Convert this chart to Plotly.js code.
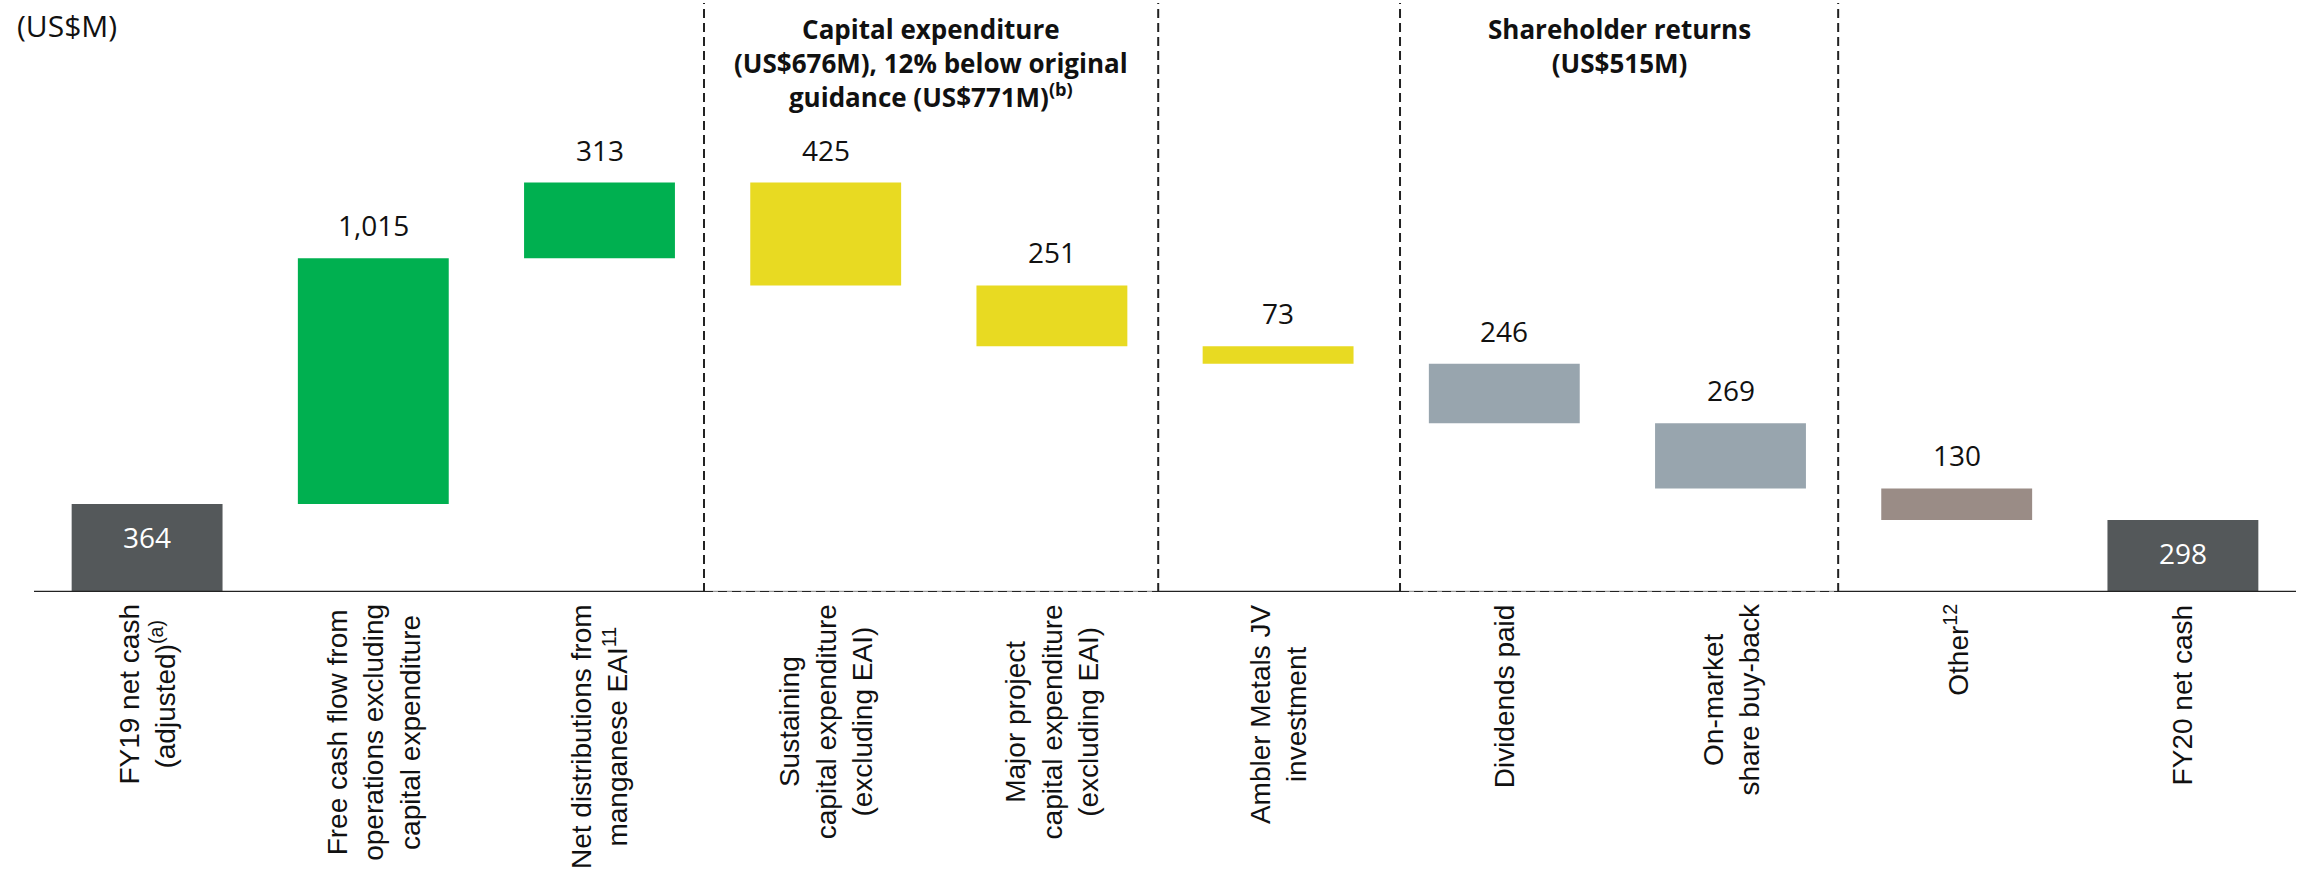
<!DOCTYPE html>
<html>
<head>
<meta charset="utf-8">
<script src="https://cdn.plot.ly/plotly-3.0.1.min.js"></script>
<style>
  html, body { margin: 0; padding: 0; background: #fff; }
  #chart { width: 2310px; height: 887px; }
</style>
</head>
<body>
<div id="chart"></div>
<script>
// Net cash bridge, FY19 -> FY20 (US$M)

const categories = [
    'FY19 net cash<br>(adjusted)<sup>(a)</sup>',
    'Free cash flow from<br>operations excluding<br>capital expenditure',
    'Net distributions from<br>manganese EAI<sup>11</sup>',
    'Sustaining<br>capital expenditure<br>(excluding EAI)',
    'Major project<br>capital expenditure<br>(excluding EAI)',
    'Ambler Metals JV<br>investment',
    'Dividends paid',
    'On-market<br>share buy-back',
    'Other<sup>12</sup>',
    'FY20 net cash'
];
const values      = [364, 1015, 313, -425, -251, -73, -246, -269, -130, 298];
const kinds       = ['total', 'delta', 'delta', 'delta', 'delta', 'delta', 'delta', 'delta', 'delta', 'total'];
const valueLabels = ['364', '1,015', '313', '425', '251', '73', '246', '269', '130', '298'];
const barColors   = ['#54585a', '#00b050', '#00b050', '#e8da22', '#e8da22', '#e8da22',
                     '#98a5ae', '#98a5ae', '#9a8c86', '#54585a'];
const sectionTitles = [
    'Capital expenditure<br>(US$676M), 12% below original<br>guidance (US$771M)<sup>(b)</sup>',
    'Shareholder returns<br>(US$515M)'
];
const unitLabel = '(US$M)';

// floating bars: running total for the bridge
const xs = categories.map((_, i) => i);
const bases = [];
const heights = [];
let running = 0;
values.forEach((v, i) => {
    if (kinds[i] === 'total') {
        bases.push(0); heights.push(v); running = v;
    } else if (v >= 0) {
        bases.push(running); heights.push(v); running += v;
    } else {
        bases.push(running + v); heights.push(-v); running += v;
    }
});

const valueFont = { family: 'Open Sans, Liberation Sans, sans-serif', size: 28, color: '#111' };
const tickFont  = { family: 'Liberation Sans, Arial, sans-serif', size: 28, color: '#111' };
const titleFont = { family: 'Open Sans, Liberation Sans, sans-serif', size: 26, color: '#111', weight: 'bold' };

const annotations = [];

xs.forEach(i => {
    if (kinds[i] === 'total') {
        // white label inside the net cash bars, just under the top
        annotations.push({
            x: i, y: heights[i], xref: 'x', yref: 'y',
            text: valueLabels[i], showarrow: false,
            xanchor: 'center', yanchor: 'middle', yshift: -33,
            font: Object.assign({}, valueFont, { color: '#ffffff' })
        });
    } else {
        annotations.push({
            x: i, y: bases[i] + heights[i], xref: 'x', yref: 'y',
            text: valueLabels[i], showarrow: false,
            xanchor: 'center', yanchor: 'bottom', yshift: 12,
            font: valueFont
        });
    }
    // rotated category label under the axis
    annotations.push({
        x: i, y: 0, xref: 'x', yref: 'y',
        text: categories[i], showarrow: false, textangle: -90,
        xanchor: 'center', yanchor: 'top', yshift: -10, align: 'center',
        font: tickFont
    });
});

// dashed section boxes (category units)
const boxes = [[2.462, 4.470], [5.539, 7.476]];
boxes.forEach((b, k) => {
    annotations.push({
        x: (b[0] + b[1]) / 2, y: 1, xref: 'x', yref: 'paper',
        text: sectionTitles[k], showarrow: false,
        xanchor: 'center', yanchor: 'top', yshift: -6, align: 'center',
        font: titleFont
    });
});

annotations.push({
    x: -0.0084, y: 1, xref: 'paper', yref: 'paper',
    text: unitLabel, showarrow: false,
    xanchor: 'left', yanchor: 'top', yshift: 0,
    font: Object.assign({}, valueFont, { size: 30 })
});

const shapes = [];
const axisLine = { color: '#222', width: 2.5 };
const dashLine = { color: '#222', width: 2, dash: '9px,5px' };

// baseline: solid outside the boxes, dashed inside
[[-0.5, boxes[0][0]], [boxes[0][1], boxes[1][0]], [boxes[1][1], 9.5]].forEach(s => {
    shapes.push({ type: 'line', xref: 'x', yref: 'y', x0: s[0], x1: s[1], y0: 0, y1: 0, line: axisLine });
});
boxes.forEach(b => {
    shapes.push({ type: 'line', xref: 'x', yref: 'y', x0: b[0], x1: b[1], y0: 0, y1: 0,
                  line: { color: '#999', width: 2.5 } });
    shapes.push({ type: 'line', xref: 'x', yref: 'y', x0: b[0], x1: b[1], y0: 0, y1: 0, line: dashLine });
    b.forEach(xv => {
        shapes.push({ type: 'line', xref: 'x', yref: 'paper', x0: xv, x1: xv, y0: 0, y1: 1, line: dashLine });
    });
});

Plotly.newPlot('chart', [{
    type: 'bar',
    x: xs,
    y: heights,
    base: bases,
    width: 0.667,
    marker: { color: barColors, line: { width: 0 } },
    hoverinfo: 'skip'
}], {
    width: 2310,
    height: 887,
    margin: { l: 34, r: 14, t: 3, b: 295 },
    showlegend: false,
    paper_bgcolor: '#ffffff',
    plot_bgcolor: '#ffffff',
    xaxis: {
        range: [-0.5, 9.5], showgrid: false, zeroline: false,
        showticklabels: false, showline: false, ticks: '', fixedrange: true
    },
    yaxis: {
        range: [0, 2434], showgrid: false, zeroline: false,
        showticklabels: false, showline: false, ticks: '', fixedrange: true
    },
    annotations: annotations,
    shapes: shapes
}, { displayModeBar: false, staticPlot: true });
</script>
</body>
</html>
